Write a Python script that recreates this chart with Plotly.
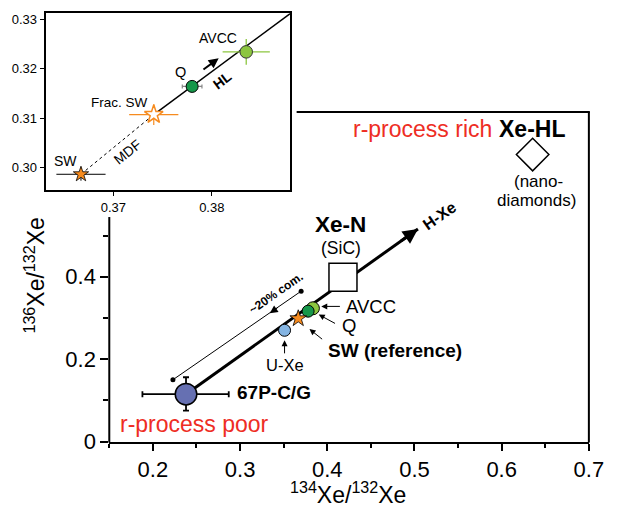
import plotly.graph_objects as go

FONT = "Liberation Sans, Arial, Helvetica, sans-serif"
W, H = 619, 521

# ---------------- data (134Xe/132Xe, 136Xe/132Xe) ----------------
comet_134 = [0.238]
comet_136 = [0.115]
comet_134_err_plus = [0.049]
comet_134_err_minus = [0.050]
comet_136_err_plus = [0.041]
comet_136_err_minus = [0.040]

uxe_134 = [0.351]
uxe_136 = [0.270]

sw_134 = [0.3667]
sw_136 = [0.2986]
sw_134_err = [0.0025]
sw_136_err = [0.0013]

fracsw_134 = [0.3741]
fracsw_136 = [0.3107]
fracsw_134_err = [0.0025]
fracsw_136_err = [0.0021]

q_134 = [0.378]
q_136 = [0.3164]
q_134_err = [0.0010]
q_136_err = [0.0004]

avcc_134 = [0.3835]
avcc_136 = [0.3234]
avcc_134_err = [0.0024]
avcc_136_err = [0.0026]

xen_134 = [0.418]
xen_136 = [0.399]

xehl_134 = [0.6355]
xehl_136 = [0.6965]

# mixing lines
hxe_line_134 = [0.238, 0.504]
hxe_line_136 = [0.115, 0.516]
com_line_134 = [0.223, 0.370]
com_line_136 = [0.150, 0.365]
mdf_line_134 = [0.3667, 0.3741]
mdf_line_136 = [0.2986, 0.3107]
hl_line_134 = [0.3741, 0.3880]
hl_line_136 = [0.3107, 0.3312]

# ticks
main_x_ticks = [0.2, 0.3, 0.4, 0.5, 0.6, 0.7]
main_x_minor = [0.15, 0.25, 0.35, 0.45, 0.55, 0.65]
main_y_ticks = [0, 0.2, 0.4]
main_y_labels = ["0", "0.2", "0.4"]
main_y_minor = [0.1, 0.3, 0.5]
inset_x_ticks = [0.37, 0.38]
inset_y_ticks = [0.30, 0.31, 0.32, 0.33]
inset_y_labels = ["0.30", "0.31", "0.32", "0.33"]

ORANGE = "#f68b1f"
LGREEN = "#8cc63f"
DGREEN = "#16974a"
LBLUE = "#84b4e2"
SLATE = "#6670b2"
RED = "#ee2d24"

# domains (pixel -> paper)
XD = [112 / W, 603.5 / W]
YD = [(H - 452.7) / H, (H - 114) / H]
XD2 = [46.7 / W, 297.7 / W]
YD2 = [(H - 194.3) / H, (H - 12.7) / H]

fig = go.Figure()

# ---------- main panel ----------
fig.add_trace(go.Scatter(x=com_line_134, y=com_line_136, mode="lines+markers",
                         line=dict(color="black", width=1),
                         marker=dict(size=5, color="black"),
                         xaxis="x", yaxis="y", hoverinfo="skip"))
fig.add_trace(go.Scatter(x=hxe_line_134, y=hxe_line_136, mode="lines",
                         line=dict(color="black", width=3),
                         xaxis="x", yaxis="y", hoverinfo="skip"))
fig.add_trace(go.Scatter(x=comet_134, y=comet_136, mode="markers",
                         marker=dict(size=21.5, color=SLATE, line=dict(color="black", width=1.5)),
                         error_x=dict(type="data", array=comet_134_err_plus,
                                      arrayminus=comet_134_err_minus, color="black",
                                      thickness=1.8, width=3),
                         error_y=dict(type="data", array=comet_136_err_plus,
                                      arrayminus=comet_136_err_minus, color="black",
                                      thickness=1.8, width=3),
                         xaxis="x", yaxis="y"))
fig.add_trace(go.Scatter(x=xen_134, y=xen_136, mode="markers",
                         marker=dict(symbol="square", size=28, color="white",
                                     line=dict(color="black", width=1.5)),
                         xaxis="x", yaxis="y"))
fig.add_trace(go.Scatter(x=xehl_134, y=xehl_136, mode="markers",
                         marker=dict(symbol="diamond", size=25, color="white",
                                     line=dict(color="black", width=1.5)),
                         xaxis="x", yaxis="y"))
fig.add_trace(go.Scatter(x=avcc_134, y=avcc_136, mode="markers",
                         marker=dict(size=13, color=LGREEN, line=dict(color="black", width=1)),
                         xaxis="x", yaxis="y"))
fig.add_trace(go.Scatter(x=q_134, y=q_136, mode="markers",
                         marker=dict(size=12, color=DGREEN, line=dict(color="black", width=1)),
                         xaxis="x", yaxis="y"))
fig.add_trace(go.Scatter(x=sw_134, y=sw_136, mode="markers",
                         marker=dict(symbol="star", size=12.5, color=ORANGE,
                                     line=dict(color="black", width=0.8)),
                         xaxis="x", yaxis="y"))
fig.add_trace(go.Scatter(x=uxe_134, y=uxe_136, mode="markers",
                         marker=dict(size=12, color=LBLUE, line=dict(color="black", width=1)),
                         xaxis="x", yaxis="y"))

# ---------- inset panel ----------
fig.add_trace(go.Scatter(x=mdf_line_134, y=mdf_line_136, mode="lines",
                         line=dict(color="black", width=1, dash="dot"),
                         xaxis="x2", yaxis="y2", hoverinfo="skip"))
fig.add_trace(go.Scatter(x=hl_line_134, y=hl_line_136, mode="lines",
                         line=dict(color="black", width=1.5),
                         xaxis="x2", yaxis="y2", hoverinfo="skip"))
fig.add_trace(go.Scatter(x=sw_134, y=sw_136, mode="markers",
                         marker=dict(symbol="star", size=11.5, color=ORANGE,
                                     line=dict(color="black", width=0.8)),
                         error_x=dict(type="data", array=sw_134_err, color="black",
                                      thickness=1, width=0),
                         error_y=dict(type="data", array=sw_136_err, color="black",
                                      thickness=1, width=0),
                         xaxis="x2", yaxis="y2"))
fig.add_trace(go.Scatter(x=fracsw_134, y=fracsw_136, mode="markers",
                         marker=dict(symbol="star", size=14, color="white",
                                     line=dict(color=ORANGE, width=1.5)),
                         error_x=dict(type="data", array=fracsw_134_err, color=ORANGE,
                                      thickness=1.2, width=0),
                         error_y=dict(type="data", array=fracsw_136_err, color=ORANGE,
                                      thickness=1.2, width=0),
                         xaxis="x2", yaxis="y2"))
fig.add_trace(go.Scatter(x=q_134, y=q_136, mode="markers",
                         marker=dict(size=12, color=DGREEN, line=dict(color="black", width=1)),
                         error_x=dict(type="data", array=q_134_err, color="#888888",
                                      thickness=1.2, width=2),
                         error_y=dict(type="data", array=q_136_err, color="#888888",
                                      thickness=1.2, width=2),
                         xaxis="x2", yaxis="y2"))
fig.add_trace(go.Scatter(x=avcc_134, y=avcc_136, mode="markers",
                         marker=dict(size=12.5, color=LGREEN, line=dict(color="#333333", width=1)),
                         error_x=dict(type="data", array=avcc_134_err, color=LGREEN,
                                      thickness=1.3, width=0),
                         error_y=dict(type="data", array=avcc_136_err, color=LGREEN,
                                      thickness=1.3, width=0),
                         xaxis="x2", yaxis="y2"))

# ---------- annotations ----------
ann = []


def txt(x, y, s, size, ref="", bold=False, color="black", xanchor="center", angle=0):
    ann.append(dict(x=x, y=y, xref="x" + ref, yref="y" + ref, text=("<b>%s</b>" % s) if bold else s,
                    showarrow=False, xanchor=xanchor, yanchor="middle", textangle=angle,
                    borderpad=0,
                    font=dict(family=FONT, size=size, color=color)))


def arrow(x0, y0, x1, y1, ref="", width=1, size=1.2):
    ann.append(dict(x=x1, y=y1, ax=x0, ay=y0, xref="x" + ref, yref="y" + ref,
                    axref="x" + ref, ayref="y" + ref, text="", showarrow=True,
                    arrowhead=2, arrowwidth=width, arrowsize=size, arrowcolor="black",
                    standoff=0, startstandoff=0))


# main labels
txt(0.2473, 0.042, "r-process poor", 23, color=RED)
txt(0.509, 0.759, "r-process rich", 23, color=RED)
txt(0.6343, 0.759, "Xe-HL", 23, bold=True)
txt(0.6425, 0.632, "(nano-", 17)
txt(0.6405, 0.585, "diamonds)", 17)
txt(0.4155, 0.526, "Xe-N", 22.5, bold=True)
txt(0.4155, 0.469, "(SiC)", 17.5)
txt(0.529, 0.549, "H-Xe", 16, bold=True, angle=-35)
txt(0.4199, 0.328, "AVCC", 18.5, xanchor="left")
txt(0.4162, 0.281, "Q", 18.5, xanchor="left")
txt(0.3994, 0.2221, "SW (reference)", 19, bold=True, xanchor="left")
txt(0.351, 0.1868, "U-Xe", 16.5)
txt(0.2951, 0.120, "67P-C/G", 19, bold=True, xanchor="left")
txt(0.3415, 0.360, "~20% com.", 12, bold=True, angle=-35)

arrow(0.4162, 0.328, 0.3931, 0.328)
arrow(0.4106, 0.2847, 0.3902, 0.3082)
arrow(0.3958, 0.2456, 0.3796, 0.2729)
arrow(0.351, 0.2104, 0.351, 0.2456)
arrow(0.3445, 0.3266, 0.334, 0.3114, size=1.6)
arrow(0.4830, 0.4845, 0.5040, 0.516, width=3, size=1.0)

# inset labels
txt(0.3651, 0.3012, "SW", 14, ref="2")
txt(0.3706, 0.3132, "Frac. SW", 13.5, ref="2")
txt(0.3768, 0.3193, "Q", 14.5, ref="2")
txt(0.3806, 0.3262, "AVCC", 14, ref="2")
txt(0.3811, 0.3176, "HL", 14, ref="2", bold=True, angle=-37)
txt(0.3714, 0.3032, "MDF", 14, ref="2", angle=-39)
arrow(0.3790, 0.3196, 0.3807, 0.3221, ref="2", width=2, size=1.0)

# axis titles
ann.append(dict(x=357 / W, y=(H - 506) / H, xref="paper", yref="paper",
                xanchor="center", yanchor="middle",
                text="<sup>134</sup>Xe/<sup>132</sup>Xe", showarrow=False,
                font=dict(family=FONT, size=23, color="black")))
ann.append(dict(x=36 / W, y=(H - 282) / H, xref="paper", yref="paper",
                xanchor="center", yanchor="middle",
                text="<sup>136</sup>Xe/<sup>132</sup>Xe", showarrow=False, textangle=-90,
                font=dict(family=FONT, size=23, color="black")))

# main frame (partially hidden behind the inset, as in the original)
shapes = [
    dict(type="line", xref="paper", yref="paper", x0=XD[0], x1=XD[0], y0=YD[0] - 1 / H,
         y1=(H - 222) / H, line=dict(color="black", width=2)),
    dict(type="line", xref="paper", yref="paper", x0=304 / W, x1=XD[1] + 1 / W, y0=YD[1],
         y1=YD[1], line=dict(color="black", width=2)),
    dict(type="line", xref="paper", yref="paper", x0=XD[1], x1=XD[1], y0=YD[0] - 1 / H,
         y1=YD[1], line=dict(color="black", width=2)),
]

fig.update_layout(
    width=W, height=H, autosize=False,
    margin=dict(l=0, r=0, t=0, b=0),
    paper_bgcolor="white", plot_bgcolor="white",
    showlegend=False,
    font=dict(family=FONT, color="black"),
    annotations=ann, shapes=shapes,
    xaxis=dict(domain=XD, range=[0.15, 0.7], anchor="y",
               tickvals=main_x_ticks, ticktext=[str(v) for v in main_x_ticks],
               ticks="outside", ticklen=7, tickwidth=2, tickcolor="black",
               showline=True, linewidth=2, linecolor="black",
               showgrid=False, zeroline=False,
               tickfont=dict(family=FONT, size=22, color="black"),
               minor=dict(tickvals=main_x_minor, ticks="outside", ticklen=4,
                          tickwidth=2, tickcolor="black", showgrid=False)),
    yaxis=dict(domain=YD, range=[0, 0.8], anchor="x",
               tickvals=main_y_ticks, ticktext=main_y_labels,
               ticks="outside", ticklen=8, tickwidth=2, tickcolor="black",
               showline=False, showgrid=False, zeroline=False,
               tickfont=dict(family=FONT, size=22, color="black"),
               minor=dict(tickvals=main_y_minor, ticks="outside", ticklen=5,
                          tickwidth=2, tickcolor="black", showgrid=False)),
    xaxis2=dict(domain=XD2, range=[0.3631, 0.3880], anchor="y2",
                tickvals=inset_x_ticks, ticktext=["0.37", "0.38"],
                ticks="outside", ticklen=4, tickwidth=1, tickcolor="black",
                showline=True, mirror=True, linewidth=1.8, linecolor="black",
                showgrid=False, zeroline=False,
                tickfont=dict(family=FONT, size=13, color="black")),
    yaxis2=dict(domain=YD2, range=[0.2954, 0.3312], anchor="x2",
                tickvals=inset_y_ticks, ticktext=inset_y_labels,
                ticks="outside", ticklen=4, tickwidth=1, tickcolor="black",
                showline=True, mirror=True, linewidth=1.8, linecolor="black",
                showgrid=False, zeroline=False,
                tickfont=dict(family=FONT, size=13, color="black")),
)

fig.write_html("out.html")
